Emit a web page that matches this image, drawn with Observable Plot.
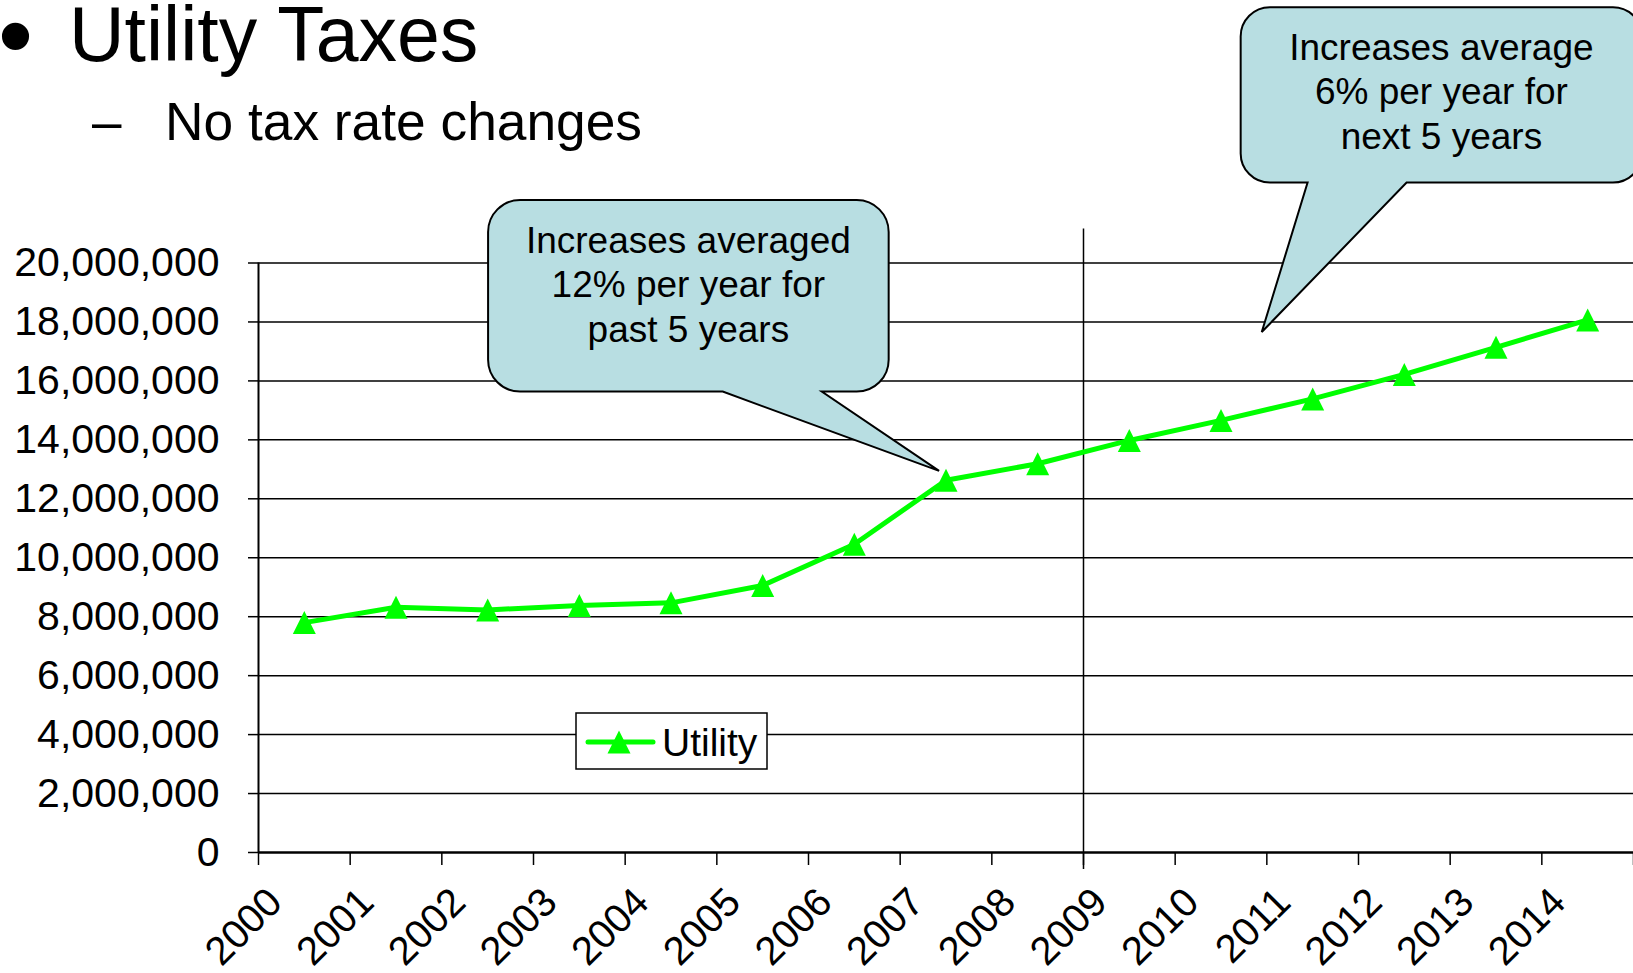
<!DOCTYPE html>
<html><head><meta charset="utf-8">
<script src="https://cdn.jsdelivr.net/npm/d3@7"></script>
<script src="https://cdn.jsdelivr.net/npm/@observablehq/plot@0.6"></script>
<style>
body{margin:0;background:#fff;font-family:"Liberation Sans",Arial,sans-serif;}
#wrap{position:relative;width:1633px;height:973px;overflow:hidden;background:#fff;}
#wrap svg{position:absolute;left:0;top:0;}
.t{position:absolute;white-space:nowrap;color:#000;line-height:0.8;font-family:"Liberation Sans",Arial,sans-serif;}
#bullet{font-size:100px;left:-2px;top:-5px;}
#title{font-size:77px;left:69px;top:4px;}
#dash{font-size:53px;left:92px;top:100.5px;}
#subtitle{font-size:53.3px;left:165px;top:100.5px;}
</style></head><body>
<div id="wrap">
<div class="t" id="bullet">•</div>
<div class="t" id="title">Utility Taxes</div>
<div class="t" id="dash">–</div>
<div class="t" id="subtitle">No tax rate changes</div>
</div>
<script>
// ---- data ----
const years = [2000, 2001, 2002, 2003, 2004, 2005, 2006, 2007, 2008, 2009, 2010, 2011, 2012, 2013, 2014];
const utility = [7.80e6, 8.32e6, 8.23e6, 8.38e6, 8.47e6, 9.06e6, 10.46e6, 12.63e6, 13.19e6, 13.98e6, 14.66e6, 15.39e6, 16.22e6, 17.14e6, 18.07e6];
const yTicks = [0, 2e6, 4e6, 6e6, 8e6, 10e6, 12e6, 14e6, 16e6, 18e6, 20e6];
const yearLabels = years.map(String);
const seriesName = "Utility";
const forecastDivider = [2008.5];
const callout1Lines = ["Increases averaged", "12% per year for", "past 5 years"];
const callout2Lines = ["Increases average", "6% per year for", "next 5 years"];

// ---- layout (annotation geometry in data coordinates) ----
const callouts = [
  {lines: callout1Lines, left: 2002.01, right: 2006.38, top: 22.12e6, bottom: 15.62e6,
   baseLeft: 2004.57, baseRight: 2005.65, tipX: 2006.93, tipY: 12.93e6},
  {lines: callout2Lines, left: 2010.22, right: 2014.60, top: 28.66e6, bottom: 22.71e6,
   baseLeft: 2010.95, baseRight: 2012.03, tipX: 2010.45, tipY: 17.64e6}
];

const data = years.map((year, i) => ({year, value: utility[i], label: yearLabels[i]}));
const boundaries = d3.range(years.length + 1).map(i => years[0] - 0.5 + i);
const font = "Liberation Sans, Arial, sans-serif";
const green = "#00ff00";

const tallTriangle = {
  draw(ctx, size) {
    const a = Math.sqrt(size / Math.PI);
    ctx.moveTo(0, -a); ctx.lineTo(a, a); ctx.lineTo(-a, a); ctx.closePath();
  }
};

const chart = Plot.plot({
  width: 1633, height: 973,
  marginTop: 262.5, marginBottom: 121, marginLeft: 258, marginRight: 0,
  style: {fontFamily: font, background: "transparent", color: "#000", overflow: "visible"},
  x: {type: "linear", domain: [boundaries[0], boundaries[boundaries.length - 1]], label: null},
  y: {domain: [0, 20e6], label: null},
  marks: [
    Plot.ruleY(yTicks.slice(1), {stroke: "#000", strokeWidth: 1.5}),
    Plot.axisY({ticks: yTicks, tickFormat: d3.format(","), tickSize: 10, tickPadding: 29, fontSize: 41, stroke: "#000", strokeWidth: 1.5, fill: "#000", label: null}),
    Plot.axisX({ticks: boundaries, tickFormat: () => "", tickSize: 13, stroke: "#000", strokeWidth: 1.5, label: null}),
    Plot.text(data, {x: "year", frameAnchor: "bottom", text: "label", rotate: -45, textAnchor: "end", dx: -20, dy: 52, fontSize: 40, fill: "#000"}),
    Plot.ruleX(forecastDivider, {y1: -0.58e6, y2: 21.15e6, stroke: "#000", strokeWidth: 1.5}),
    Plot.ruleX([boundaries[0]], {y1: 0, y2: 20e6, stroke: "#000", strokeWidth: 2}),
    Plot.ruleY([0], {stroke: "#000", strokeWidth: 2.5}),
    Plot.line(data, {x: "year", y: "value", stroke: green, strokeWidth: 5}),
    Plot.dot(data, {x: "year", y: "value", symbol: tallTriangle, r: 11.5, fill: green, stroke: "none"})
  ]
});

document.getElementById("wrap").appendChild(chart);

// ---- callouts & legend ----
const sx = chart.scale("x"), sy = chart.scale("y");
const X = v => sx.apply(v), Y = v => sy.apply(v);
const svg = d3.select(chart);
for (const c of callouts) {
  const x0 = X(c.left), x1 = X(c.right), y0 = Y(c.top), y1 = Y(c.bottom);
  const r = Math.min(x1 - x0, y1 - y0) / 6;
  const bl = X(c.baseLeft), br = X(c.baseRight), tx = X(c.tipX), ty = Y(c.tipY);
  const d = `M${x0 + r},${y0}H${x1 - r}A${r},${r} 0 0 1 ${x1},${y0 + r}V${y1 - r}A${r},${r} 0 0 1 ${x1 - r},${y1}H${br}L${tx},${ty}L${bl},${y1}H${x0 + r}A${r},${r} 0 0 1 ${x0},${y1 - r}V${y0 + r}A${r},${r} 0 0 1 ${x0 + r},${y0}Z`;
  svg.append("path").attr("d", d).attr("fill", "#b8dee2").attr("stroke", "#000").attr("stroke-width", 2);
  const t = svg.append("text").attr("text-anchor", "middle").attr("font-size", 37)
    .attr("font-family", font).attr("fill", "#000");
  c.lines.forEach((line, i) => t.append("tspan").attr("x", (x0 + x1) / 2).attr("y", y0 + 52.7 + i * 44.5).text(line));
}

// legend box
const lg = svg.append("g").attr("transform", "translate(576,713)");
lg.append("rect").attr("width", 191).attr("height", 56).attr("fill", "#fff").attr("stroke", "#000").attr("stroke-width", 1.5);
lg.append("line").attr("x1", 12).attr("x2", 77).attr("y1", 29).attr("y2", 29).attr("stroke", green).attr("stroke-width", 5).attr("stroke-linecap", "round");
lg.append("path").attr("transform", "translate(43,29)").attr("d", d3.symbol(tallTriangle, Math.PI * 11.5 * 11.5)()).attr("fill", green);
lg.append("text").attr("x", 86).attr("y", 43).attr("text-anchor", "start").attr("font-size", 39).attr("font-family", font).attr("fill", "#000").text(seriesName);
</script>
</body></html>
